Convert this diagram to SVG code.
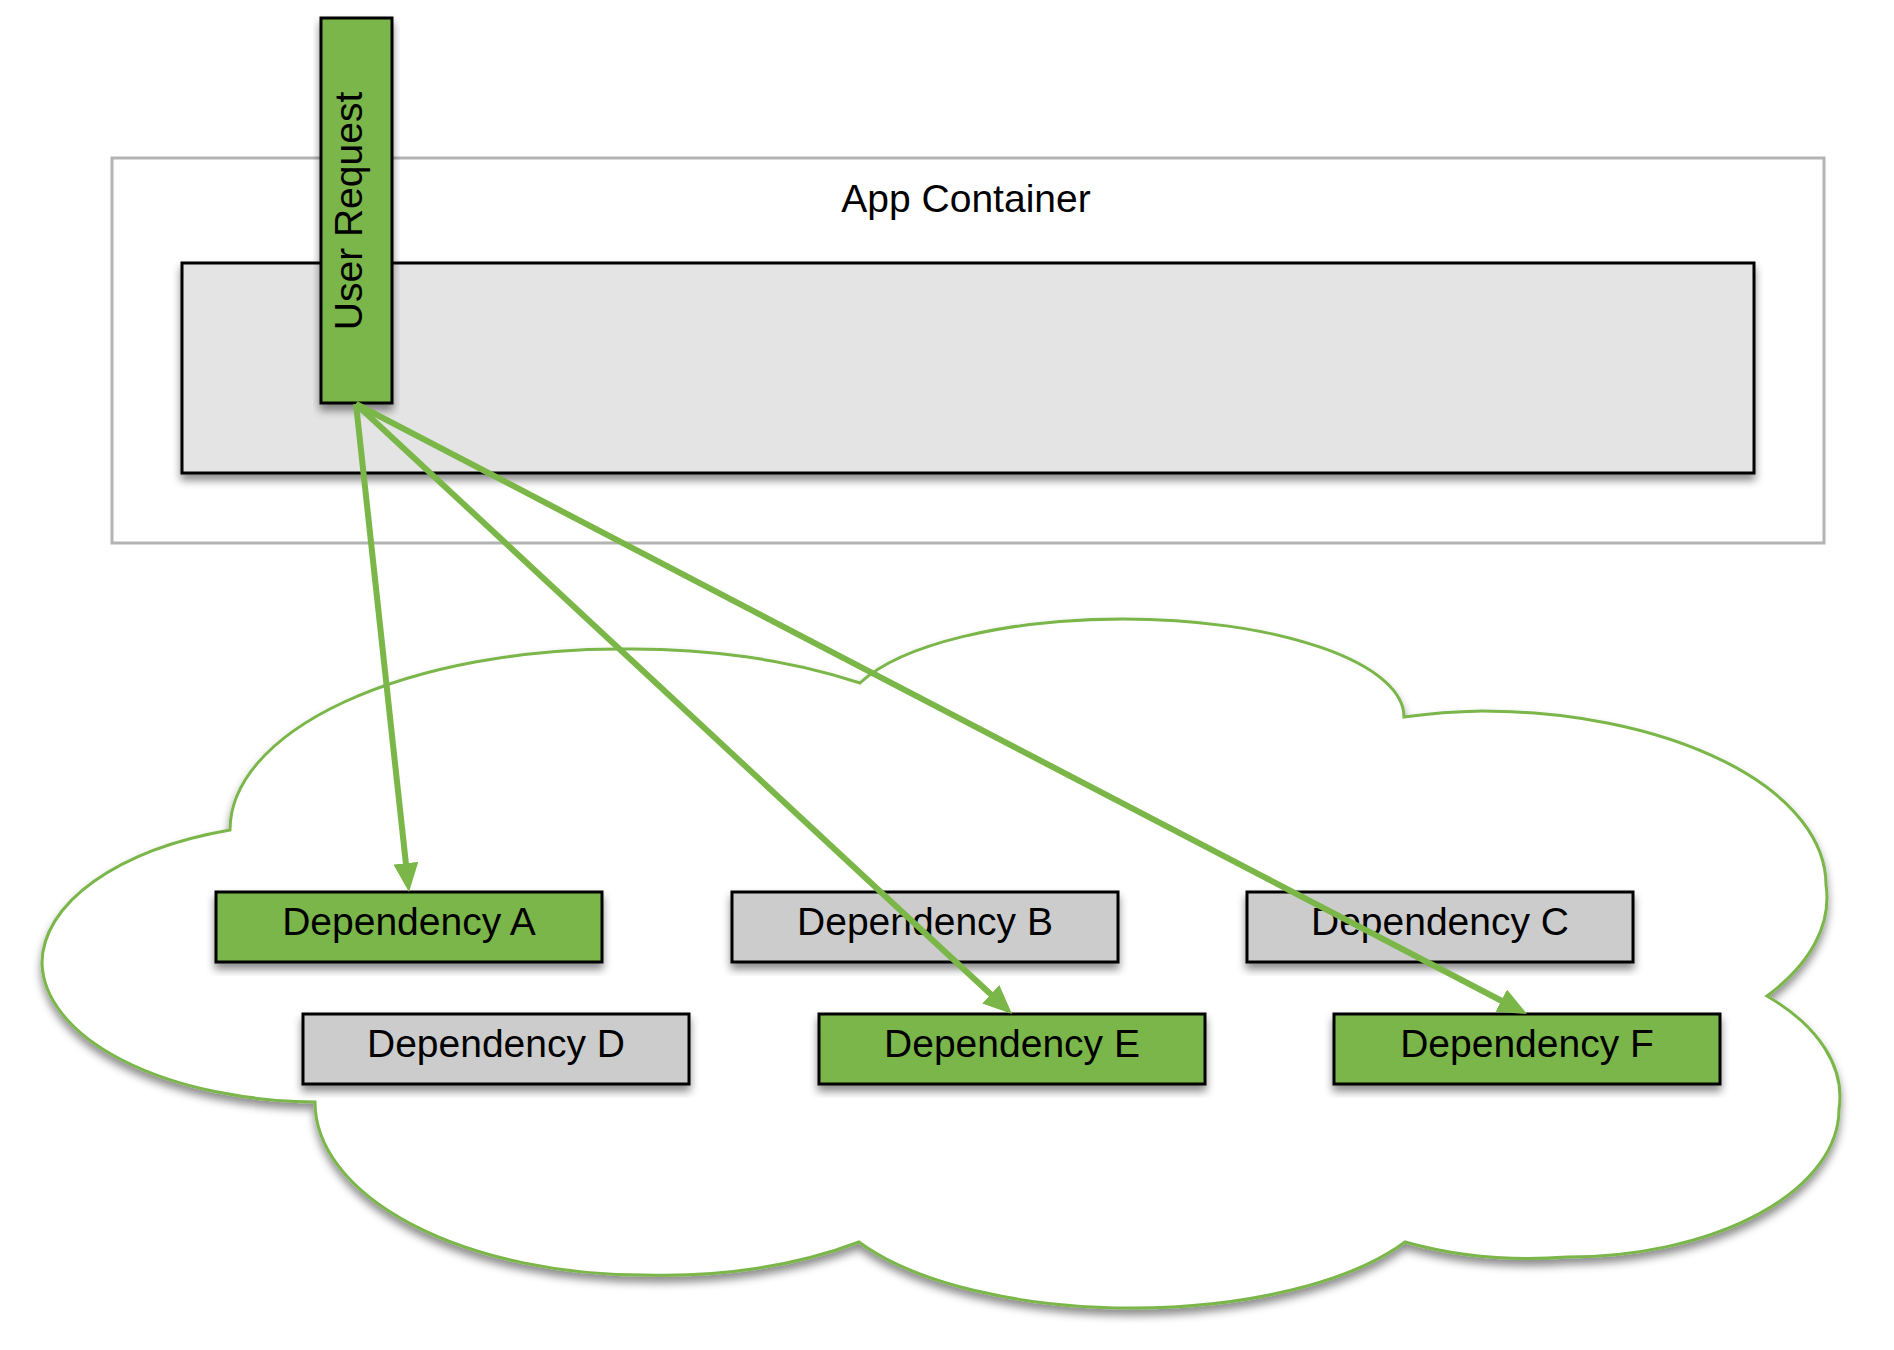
<svg xmlns="http://www.w3.org/2000/svg" width="1894" height="1350" viewBox="0 0 1894 1350">
  <style>
    .lbl { font-family: "Liberation Sans", Arial, sans-serif; font-size: 39px; fill: #000; text-anchor: middle; }
    .box { stroke: #000; stroke-width: 3; filter: url(#shadow); }
    .green { fill: #7ab648; }
    .gray { fill: #cccccc; }
    .conn { stroke: #7ab648; stroke-width: 6; fill: none; marker-end: url(#arrow); }
  </style>
  <defs>
    <filter id="shadow" x="-10%" y="-10%" width="120%" height="130%">
      <feDropShadow dx="0" dy="6" stdDeviation="4.5" flood-color="#000" flood-opacity="0.45"/>
    </filter>
    <marker id="arrow" markerUnits="userSpaceOnUse" markerWidth="29" markerHeight="25" refX="4" refY="12.5" orient="auto" viewBox="0 0 29 25">
      <path d="M0,0 L29,12.5 L0,25 z" fill="#7ab648"/>
    </marker>
  </defs>
  <rect width="1894" height="1350" fill="#ffffff"/>

  <g id="app-container">
    <rect x="112" y="158" width="1712" height="385" fill="#ffffff" stroke="#b3b3b3" stroke-width="3"/>
    <text class="lbl" x="966" y="212">App Container</text>
  </g>
  <g id="app-inner">
    <rect class="box" x="182" y="263" width="1572" height="210" fill="#e4e4e4"/>
  </g>
  <g id="user-request">
    <rect class="box green" x="321" y="18" width="71" height="385"/>
    <text class="lbl" transform="translate(362,211) rotate(-90)">User Request</text>
  </g>

  <g id="cloud">
    <path d="M230,830 A390,181 0 0,1 620,649 A390,181 0 0,1 860,683 A281,98 0 0,1 1123,619 A281,98 0 0,1 1404,717 A344,174 0 0,1 1482,711 A344,174 0 0,1 1826,885 A344,174 0 0,1 1767,996 A272,148 0 0,1 1839,1109 A272,148 0 0,1 1567,1257 A272,148 0 0,1 1405,1242 A312,128 0 0,1 1132,1308 A312,128 0 0,1 859,1242 A330,173 0 0,1 645,1275 A330,173 0 0,1 315,1102 A278,141 0 0,1 42,963 A278,141 0 0,1 230,830 Z" fill="#ffffff" stroke="#7ab648" stroke-width="3" stroke-linejoin="miter" filter="url(#shadow)"/>
  </g>

  <g id="dep-a">
    <rect class="box green" x="216" y="892" width="386" height="70"/>
    <text class="lbl" x="409" y="935">Dependency A</text>
  </g>
  <g id="dep-b">
    <rect class="box gray" x="732" y="892" width="386" height="70"/>
    <text class="lbl" x="925" y="935">Dependency B</text>
  </g>
  <g id="dep-c">
    <rect class="box gray" x="1247" y="892" width="386" height="70"/>
    <text class="lbl" x="1440" y="935">Dependency C</text>
  </g>
  <g id="dep-d">
    <rect class="box gray" x="303" y="1014" width="386" height="70"/>
    <text class="lbl" x="496" y="1057">Dependency D</text>
  </g>
  <g id="dep-e">
    <rect class="box green" x="819" y="1014" width="386" height="70"/>
    <text class="lbl" x="1012" y="1057">Dependency E</text>
  </g>
  <g id="dep-f">
    <rect class="box green" x="1334" y="1014" width="386" height="70"/>
    <text class="lbl" x="1527" y="1057">Dependency F</text>
  </g>

  <g id="connectors">
    <line class="conn" x1="356" y1="404" x2="406.3" y2="867.2"/>
    <line class="conn" x1="356" y1="404" x2="993.7" y2="997"/>
    <line class="conn" x1="356" y1="404" x2="1504.8" y2="1002.5"/>
  </g>
</svg>
